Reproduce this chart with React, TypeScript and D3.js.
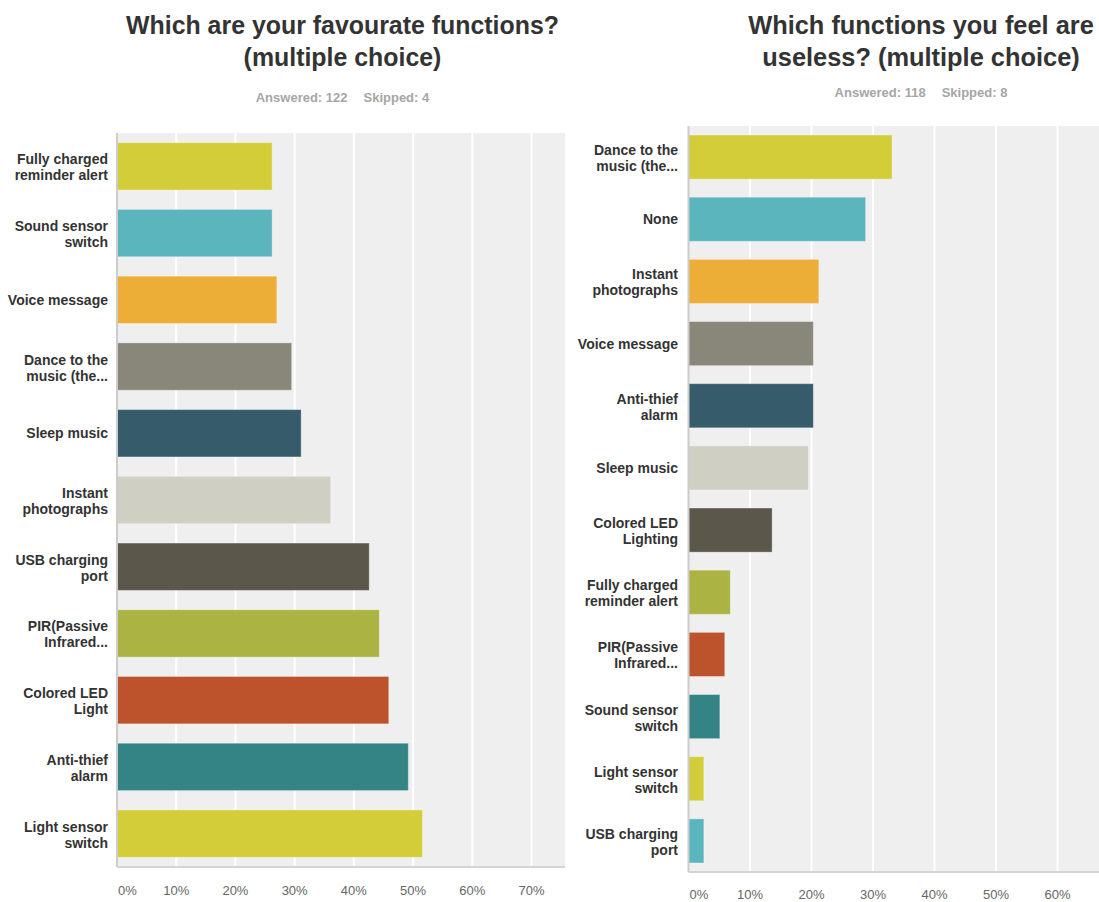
import React from "react";
import * as d3 from "d3";

const leftTitle = ["Which are your favourate functions?", "(multiple choice)"];
const leftAnswered = "Answered: 122";
const leftSkipped = "Skipped: 4";
const leftCategories = [
  "Fully charged|reminder alert",
  "Sound sensor|switch",
  "Voice message",
  "Dance to the|music (the...",
  "Sleep music",
  "Instant|photographs",
  "USB charging|port",
  "PIR(Passive|Infrared...",
  "Colored LED|Light",
  "Anti-thief|alarm",
  "Light sensor|switch",
];
const leftValues = [26.2, 26.2, 27.0, 29.5, 31.1, 36.1, 42.6, 44.3, 45.9, 49.2, 51.6];
const leftTicks = [0, 10, 20, 30, 40, 50, 60, 70];

const rightTitle = ["Which functions you feel are", "useless? (multiple choice)"];
const rightAnswered = "Answered: 118";
const rightSkipped = "Skipped: 8";
const rightCategories = [
  "Dance to the|music (the...",
  "None",
  "Instant|photographs",
  "Voice message",
  "Anti-thief|alarm",
  "Sleep music",
  "Colored LED|Lighting",
  "Fully charged|reminder alert",
  "PIR(Passive|Infrared...",
  "Sound sensor|switch",
  "Light sensor|switch",
  "USB charging|port",
];
const rightValues = [33.1, 28.8, 21.2, 20.3, 20.3, 19.5, 13.6, 6.8, 5.9, 5.1, 2.5, 2.5];
const rightTicks = [0, 10, 20, 30, 40, 50, 60];

const palette = [
  "#D3CD3A",
  "#5AB5BC",
  "#EDAE37",
  "#89867A",
  "#365C6C",
  "#D0CFC3",
  "#5B584B",
  "#ABB342",
  "#BD532D",
  "#348485",
];

const FONT = "'Liberation Sans', Arial, Helvetica, sans-serif";

type PanelProps = {
  title: string[];
  titleSize: number;
  answered: string;
  skipped: string;
  categories: string[];
  values: number[];
  ticks: number[];
  plotX0: number;
  plotX1: number;
  plotY0: number;
  plotY1: number;
  tickMaxX: number;
  titleCx: number;
  titleY: number[];
  subY: number;
  labelX: number;
  tickLabelY: number;
};

function Panel(p: PanelProps) {
  const maxTick = p.ticks[p.ticks.length - 1];
  const x = d3.scaleLinear().domain([0, maxTick]).range([p.plotX0, p.tickMaxX]);
  const y = d3
    .scaleBand<string>()
    .domain(p.categories)
    .range([p.plotY0, p.plotY1])
    .paddingInner(0.29)
    .paddingOuter(0.145);
  const bw = y.bandwidth();
  return (
    <g>
      {p.title.map((t, i) => (
        <text
          key={i}
          x={p.titleCx}
          y={p.titleY[i]}
          textAnchor="middle"
          fontFamily={FONT}
          fontWeight="bold"
          fontSize={p.titleSize}
          fill="#333333"
        >
          {t}
        </text>
      ))}
      <text
        x={p.titleCx}
        y={p.subY}
        textAnchor="middle"
        fontFamily={FONT}
        fontWeight="bold"
        fontSize={13}
        fill="#a6a6a6"
      >
        {p.answered}
        <tspan dx={16}>{p.skipped}</tspan>
      </text>
      <rect
        x={p.plotX0}
        y={p.plotY0}
        width={p.plotX1 - p.plotX0}
        height={p.plotY1 - p.plotY0}
        fill="#efefef"
      />
      {p.ticks.slice(1).map((t) => (
        <line
          key={t}
          x1={x(t)}
          x2={x(t)}
          y1={p.plotY0}
          y2={p.plotY1}
          stroke="#ffffff"
          strokeWidth={2}
        />
      ))}
      {p.categories.map((c, i) => (
        <rect
          key={c + i}
          x={x(0)}
          y={y(c)!}
          width={x(p.values[i]) - x(0)}
          height={bw}
          fill={palette[i % palette.length]}
          stroke="#ffffff"
          strokeOpacity={0.35}
          strokeWidth={1}
        />
      ))}
      <line
        x1={p.plotX0}
        x2={p.plotX0}
        y1={p.plotY0}
        y2={p.plotY1}
        stroke="#cccccc"
        strokeWidth={2}
      />
      <line
        x1={p.plotX0}
        x2={p.plotX1}
        y1={p.plotY1}
        y2={p.plotY1}
        stroke="#d4d4d4"
        strokeWidth={2}
      />
      {p.categories.map((c, i) => {
        const lines = c.split("|");
        const cy = y(c)! + bw / 2;
        return (
          <text
            key={"l" + c + i}
            x={p.labelX}
            textAnchor="end"
            fontFamily={FONT}
            fontWeight="bold"
            fontSize={14}
            fill="#333333"
          >
            {lines.length === 1 ? (
              <tspan x={p.labelX} y={cy + 5}>
                {lines[0]}
              </tspan>
            ) : (
              lines.map((ln, j) => (
                <tspan key={j} x={p.labelX} y={cy - 2 + j * 16}>
                  {ln}
                </tspan>
              ))
            )}
          </text>
        );
      })}
      {p.ticks.map((t) => (
        <text
          key={"t" + t}
          x={t === 0 ? x(0) + 1 : x(t)}
          y={p.tickLabelY}
          textAnchor={t === 0 ? "start" : "middle"}
          fontFamily={FONT}
          fontSize={13}
          fill="#666666"
        >
          {t + "%"}
        </text>
      ))}
    </g>
  );
}

export default function App() {
  return (
    <svg
      width={1099}
      height={902}
      style={{ position: "absolute", left: 0, top: 0, background: "#ffffff" }}
    >
      <Panel
        title={leftTitle}
        titleSize={24.9}
        answered={leftAnswered}
        skipped={leftSkipped}
        categories={leftCategories}
        values={leftValues}
        ticks={leftTicks}
        plotX0={117}
        plotX1={565}
        plotY0={133}
        plotY1={867}
        tickMaxX={531.5}
        titleCx={342.5}
        titleY={[34, 66]}
        subY={102}
        labelX={108}
        tickLabelY={895}
      />
      <Panel
        title={rightTitle}
        titleSize={25.4}
        answered={rightAnswered}
        skipped={rightSkipped}
        categories={rightCategories}
        values={rightValues}
        ticks={rightTicks}
        plotX0={688.5}
        plotX1={1099}
        plotY0={126}
        plotY1={872}
        tickMaxX={1057.5}
        titleCx={921}
        titleY={[34, 66]}
        subY={97}
        labelX={678}
        tickLabelY={899}
      />
    </svg>
  );
}
